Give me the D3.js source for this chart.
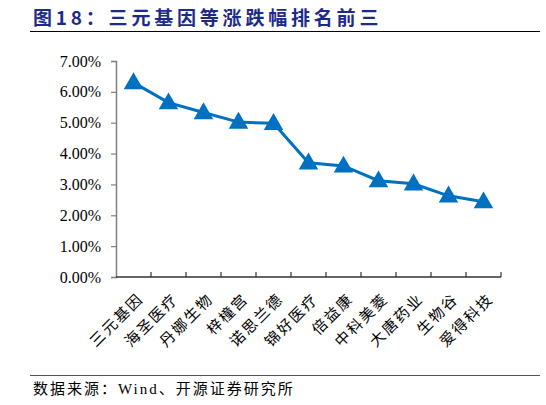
<!DOCTYPE html>
<html>
<head>
<meta charset="utf-8">
<script src="https://cdn.jsdelivr.net/npm/d3@7"></script>
<style>
  body { margin: 0; background: #fff; }
  svg { display: block; }
</style>
</head>
<body>
<svg id="chart"></svg>
<script>
var titleText = "图18：三元基因等涨跌幅排名前三";
var sourceText = "数据来源：Wind、开源证券研究所";
var categories = ["三元基因", "海圣医疗", "丹娜生物", "梓橦宫", "诺思兰德", "锦好医疗", "倍益康", "中科美菱", "大唐药业", "生物谷", "爱得科技"];
var values = [6.30, 5.65, 5.33, 5.02, 4.98, 3.70, 3.60, 3.12, 3.02, 2.63, 2.44];
var yTicks = [0, 1, 2, 3, 4, 5, 6, 7];

var width = 546, height = 405;
var svg = d3.select("#chart").attr("width", width).attr("height", height);

// title and rules
svg.append("text")
    .attr("x", 33)
    .attr("y", 25)
    .attr("font-family", "'Noto Sans CJK SC', serif")
    .attr("font-weight", "bold")
    .attr("font-size", "19px")
    .attr("letter-spacing", "3.8px")
    .attr("fill", "#1c2a8a")
    .text(titleText);
svg.append("line")
    .attr("x1", 30).attr("x2", 540)
    .attr("y1", 31.5).attr("y2", 31.5)
    .style("stroke", "#000").style("stroke-width", 1.2);
svg.append("line")
    .attr("x1", 30).attr("x2", 540)
    .attr("y1", 375.5).attr("y2", 375.5)
    .style("stroke", "#555").style("stroke-width", 1.2);
svg.append("text")
    .attr("x", 33)
    .attr("y", 394)
    .attr("font-family", "'Liberation Serif', 'Noto Sans CJK SC', serif")
    .attr("font-size", "15px")
    .attr("letter-spacing", "2px")
    .attr("fill", "#000")
    .text(sourceText);

// plot area
var x0 = 116, x1 = 501, yTop = 61, yBot = 277;
var xscale = d3.scaleBand().domain(categories).range([x0, x1]);
var yscale = d3.scaleLinear().domain([0, 7]).range([yBot, yTop]);

// y axis
var yaxis = d3.axisLeft(yscale)
    .tickValues(yTicks)
    .tickSize(5)
    .tickFormat(function (d) { return d.toFixed(2) + "%"; });
var gy = svg.append("g")
    .attr("transform", "translate(" + x0 + ",0)")
    .call(yaxis);
gy.select(".domain").style("stroke", "#808080").style("stroke-width", 1.5);
gy.selectAll(".tick line").style("stroke", "#808080").style("stroke-width", 1.2);
gy.selectAll(".tick text")
    .attr("x", -15)
    .style("font-family", "'Liberation Serif', serif")
    .style("font-size", "16px")
    .style("fill", "#000");

// x axis, ticks pointing up at band edges
var gx = svg.append("g").attr("class", "x-axis");
gx.append("line")
    .attr("x1", x0).attr("x2", x1)
    .attr("y1", yBot).attr("y2", yBot)
    .style("stroke", "#333").style("stroke-width", 1.3);
var edges = categories.map(function (c) { return xscale(c) + xscale.bandwidth(); });
gx.selectAll("line.xtick")
    .data(edges)
    .enter()
    .append("line")
    .attr("class", "xtick")
    .attr("x1", function (d) { return d; })
    .attr("x2", function (d) { return d; })
    .attr("y1", yBot)
    .attr("y2", yBot - 5)
    .style("stroke", "#333").style("stroke-width", 1.2);
gx.selectAll("text.xlabel")
    .data(categories)
    .enter()
    .append("text")
    .attr("class", "xlabel")
    .attr("transform", function (d) {
        var cx = xscale(d) + xscale.bandwidth() / 2 + 7;
        return "translate(" + cx + "," + (yBot + 19) + ") rotate(-45)";
    })
    .attr("text-anchor", "end")
    .attr("dy", "0.35em")
    .attr("font-family", "'Noto Sans CJK SC', serif")
    .attr("font-size", "15px")
    .attr("letter-spacing", "2px")
    .attr("fill", "#000")
    .text(function (d) { return d; });

// line + triangle markers
var pts = categories.map(function (c, i) { return { name: c, value: values[i] }; });
var line = d3.line()
    .x(function (d) { return xscale(d.name) + xscale.bandwidth() / 2; })
    .y(function (d) { return yscale(d.value); });
svg.append("path")
    .datum(pts)
    .attr("d", line)
    .style("fill", "none")
    .style("stroke", "#0070c0")
    .style("stroke-width", 3);
var tri = d3.symbol().type(d3.symbolTriangle).size(165);
svg.selectAll("path.marker")
    .data(pts)
    .enter()
    .append("path")
    .attr("class", "marker")
    .attr("d", tri)
    .attr("transform", function (d) {
        return "translate(" + (xscale(d.name) + xscale.bandwidth() / 2) + "," + (yscale(d.value) + 1) + ")";
    })
    .style("fill", "#0070c0");
</script>
</body>
</html>
